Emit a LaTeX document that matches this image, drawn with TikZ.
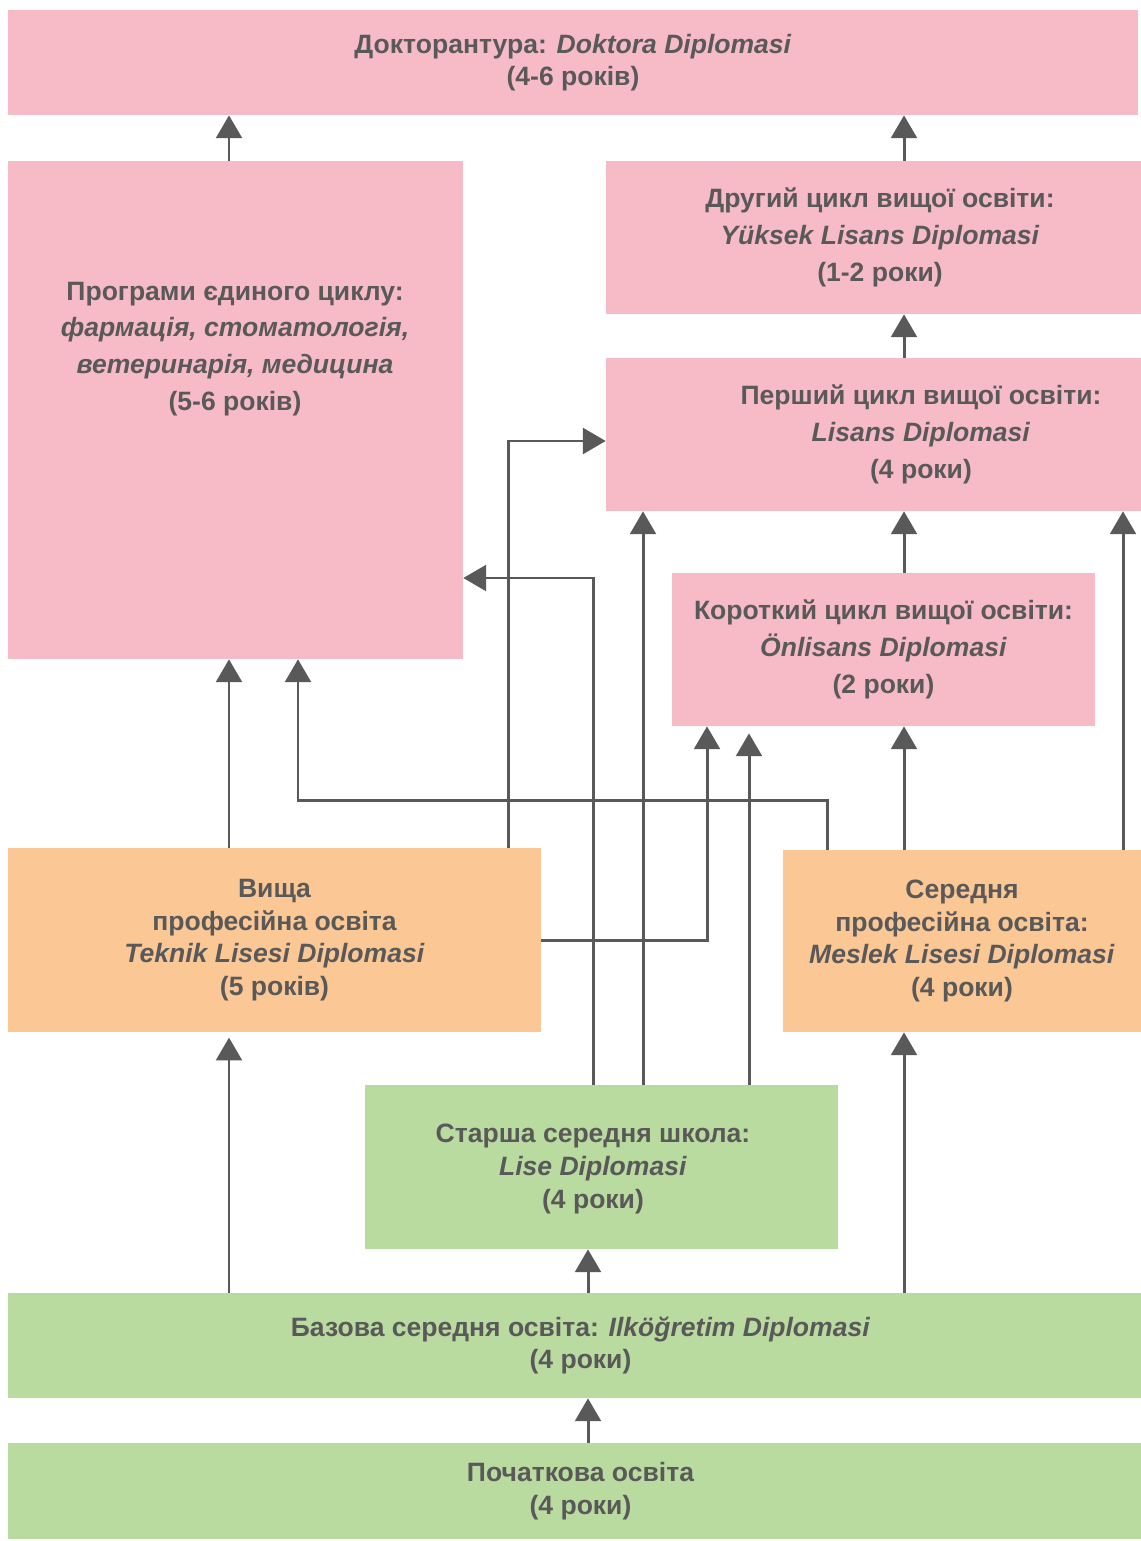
\documentclass[tikz,border=0pt]{standalone}
\usepackage{fontspec}
\setmainfont{Liberation Sans}
\usetikzlibrary{arrows.meta}
\definecolor{pinkbox}{HTML}{F7BBC7}
\definecolor{orangebox}{HTML}{FBC795}
\definecolor{greenbox}{HTML}{BADB9F}
\definecolor{txtgray}{HTML}{595959}
\begin{document}
\begin{tikzpicture}[x=0.02cm,y=-0.02cm]
    \tikzstyle{box}=[rectangle,inner sep=0pt,align=center,text=txtgray,font=\fontsize{15.1}{18.6}\selectfont\bfseries];
    \tikzstyle{wide}=[font=\fontsize{15.1}{21}\selectfont\bfseries];
    \tikzstyle{arr}=[draw=txtgray,line width=1.7pt,-{Triangle[width=14.7pt,length=13pt]}];
    \useasboundingbox (0,0) rectangle (1141,1541);
    \clip (0,0) rectangle (1141,1541);

    % boxes
    \node (doct) [box,fill=pinkbox,minimum width=22.6cm,minimum height=2.1cm] at (573,62.5)
        {Докторантура: \textit{Doktora Diplomasi}\\(4-6 років)};
    \node (single) [box,fill=pinkbox,minimum width=9.1cm,minimum height=9.96cm] at (235.5,410) {};
    \node (single-t) [box,wide] at (235,349)
        {Програми єдиного циклу:\\\textit{фармація, стоматологія,}\\\textit{ветеринарія, медицина}\\(5-6 років)};
    \node (second) [box,wide,fill=pinkbox,minimum width=10.96cm,minimum height=3.06cm] at (880,237.5)
        {Другий цикл вищої освіти:\\\textit{Yüksek Lisans Diplomasi}\\(1-2 роки)};
    \node (first) [box,wide,fill=pinkbox,minimum width=12.6cm,minimum height=3.06cm] at (921,434.5)
        {Перший цикл вищої освіти:\\\textit{Lisans Diplomasi}\\(4 роки)};
    \node (short) [box,wide,fill=pinkbox,minimum width=8.46cm,minimum height=3.06cm] at (883.5,649.5)
        {Короткий цикл вищої освіти:\\\textit{Önlisans Diplomasi}\\(2 роки)};
    \node (teknik) [box,fill=orangebox,minimum width=10.66cm,minimum height=3.68cm] at (274.5,940)
        {Вища\\професійна освіта\\\textit{Teknik Lisesi Diplomasi}\\(5 років)};
    \node (meslek) [box,fill=orangebox,minimum width=7.16cm,minimum height=3.64cm] at (962,941)
        {Середня\\професійна освіта:\\\textit{Meslek Lisesi Diplomasi}\\(4 роки)};
    \node (senior) [box,fill=greenbox,minimum width=9.46cm,minimum height=3.28cm] at (601.5,1167) {};
    \node (senior-t) [box] at (593,1169)
        {Старша середня школа:\\\textit{Lise Diplomasi}\\(4 роки)};
    \node (basic) [box,fill=greenbox,minimum width=22.9cm,minimum height=2.1cm] at (580.5,1345.5)
        {Базова середня освіта: \textit{Ilköğretim Diplomasi}\\(4 роки)};
    \node (primary) [box,fill=greenbox,minimum width=22.9cm,minimum height=1.92cm] at (580.5,1491)
        {Початкова освіта\\(4 роки)};

    % lanes
    \coordinate (la) at (229,0);
    \coordinate (lb) at (904,0);
    \coordinate (lc) at (593,578);
    \coordinate (ld) at (508,441);
    \coordinate (le) at (643,0);
    \coordinate (lf) at (749,0);
    \coordinate (lg) at (707,940);
    \coordinate (lh) at (827,800);
    \coordinate (li) at (298,800);
    \coordinate (lj) at (1123,0);
    \coordinate (lk) at (588,0);

    % arrows
    \draw[arr] (single.north -| la) -- (doct.south -| la);
    \draw[arr] (second.north -| lb) -- (doct.south -| lb);
    \draw[arr] (first.north -| lb) -- (second.south -| lb);
    \draw[arr] (short.north -| lb) -- (first.south -| lb);
    \draw[arr] (teknik.north -| la) -- (single.south -| la);
    \draw[arr] (senior.north -| lc) |- (single.east |- lc);
    \draw[arr] (teknik.north -| ld) |- (first.west |- ld);
    \draw[arr] (senior.north -| le) -- (first.south -| le);
    \draw[arr,shorten >=4pt] (senior.north -| lf) -- (short.south -| lf);
    \draw[arr] (teknik.east |- lg) -| (short.south -| lg);
    \draw[arr] (meslek.north -| lh) |- (li) -- (single.south -| li);
    \draw[arr] (meslek.north -| lb) -- (short.south -| lb);
    \draw[arr] (meslek.north -| lj) -- (first.south -| lj);
    \draw[arr,shorten >=3pt] (basic.north -| la) -- (teknik.south -| la);
    \draw[arr] (basic.north -| lb) -- (meslek.south -| lb);
    \draw[arr] (basic.north -| lk) -- (senior.south -| lk);
    \draw[arr] (primary.north -| lk) -- (basic.south -| lk);

\end{tikzpicture}
\end{document}
